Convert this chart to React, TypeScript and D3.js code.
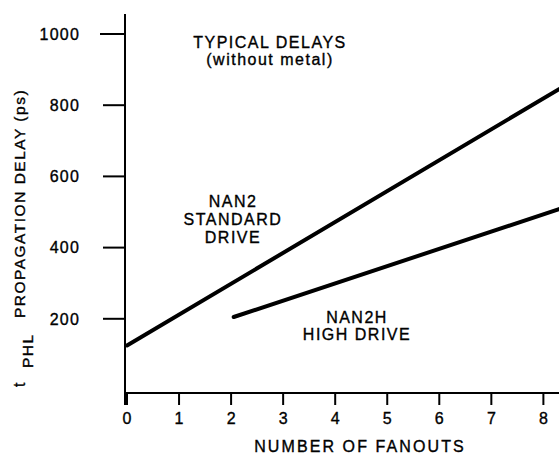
import React, { useEffect, useRef } from 'react';
import * as d3 from 'd3';

// fanouts (x) vs t_PHL propagation delay in ps (y)
const nan2Fanouts = [0, 8.3];
const nan2Delays = [125, 845];
const nan2hFanouts = [2.05, 8.3];
const nan2hDelays = [205, 508];

const xTicks = [0, 1, 2, 3, 4, 5, 6, 7, 8];
const yTicks = [200, 400, 600, 800, 1000];

const titleLines = ['TYPICAL DELAYS', '(without metal)'];
const nan2Label = ['NAN2', 'STANDARD', 'DRIVE'];
const nan2hLabel = ['NAN2H', 'HIGH DRIVE'];

const width = 559;
const height = 456;
const FONT = '"Liberation Sans", Arial, Helvetica, sans-serif';

interface Pt { x: number; y: number; }

const App: React.FC = () => {
  const svgRef = useRef<SVGSVGElement>(null);

  useEffect(() => {
    if (!svgRef.current) return;
    const svg = d3.select(svgRef.current);
    svg.selectAll('*').remove();

    const xScale = d3.scaleLinear().domain([0, 8.3]).range([127, 559]);
    const yScale = d3.scaleLinear().domain([0, 1000]).range([390, 34]);

    const axisX = 125;
    const axisY = 393;

    const g = svg.append('g')
      .attr('font-family', FONT)
      .attr('fill', '#000');

    // the scan is a bit heavy, so give text a hairline outline
    const ink = (t: d3.Selection<SVGTextElement, any, any, any>) =>
      t.attr('stroke', '#000').attr('stroke-width', 0.35);

    // axes
    g.append('line')
      .attr('x1', axisX).attr('x2', axisX)
      .attr('y1', 14).attr('y2', 405)
      .attr('stroke', '#000').attr('stroke-width', 2);
    g.append('line')
      .attr('x1', axisX).attr('x2', width)
      .attr('y1', axisY).attr('y2', axisY)
      .attr('stroke', '#000').attr('stroke-width', 2);

    // x ticks
    g.selectAll('.xtick')
      .data(xTicks)
      .enter()
      .append('line')
      .attr('x1', d => xScale(d)).attr('x2', d => xScale(d))
      .attr('y1', axisY).attr('y2', axisY + 12)
      .attr('stroke', '#000').attr('stroke-width', 2);
    g.selectAll('.xlabel')
      .data(xTicks)
      .enter()
      .append('text')
      .attr('x', d => xScale(d))
      .attr('y', 424)
      .attr('text-anchor', 'middle')
      .attr('font-size', 16)
      .call(ink)
      .text(d => String(d));

    // y ticks
    g.selectAll('.ytick')
      .data(yTicks)
      .enter()
      .append('line')
      .attr('x1', d => (d === 1000 ? 100 : 103)).attr('x2', axisX)
      .attr('y1', d => yScale(d)).attr('y2', d => yScale(d))
      .attr('stroke', '#000').attr('stroke-width', 2);
    g.selectAll('.ylabel')
      .data(yTicks)
      .enter()
      .append('text')
      .attr('x', 80)
      .attr('y', d => yScale(d) + 5.8)
      .attr('text-anchor', 'end')
      .attr('font-size', 16)
      .attr('letter-spacing', 1.2)
      .call(ink)
      .text(d => String(d));

    // data lines
    const line = d3.line<Pt>().x(d => xScale(d.x)).y(d => yScale(d.y));
    const series: Pt[][] = [
      nan2Fanouts.map((x, i) => ({ x, y: nan2Delays[i] })),
      nan2hFanouts.map((x, i) => ({ x, y: nan2hDelays[i] })),
    ];
    g.selectAll('.series')
      .data(series)
      .enter()
      .append('path')
      .attr('d', d => line(d))
      .attr('fill', 'none')
      .attr('stroke', '#000')
      .attr('stroke-width', 4)
      .attr('stroke-linecap', 'round');

    // annotation blocks
    const block = (lines: string[], cx: number, y0: number, step: number) => {
      lines.forEach((s, i) => {
        g.append('text')
          .attr('x', cx)
          .attr('y', y0 + i * step)
          .attr('text-anchor', 'middle')
          .attr('font-size', 16)
          .attr('letter-spacing', 1.5)
          .call(ink)
          .text(s);
      });
    };
    block(titleLines, 270, 48, 17);
    block(nan2Label, 233, 207, 18);
    block(nan2hLabel, 357, 323, 17);

    // x axis title
    g.append('text')
      .attr('x', 360)
      .attr('y', 452)
      .attr('text-anchor', 'middle')
      .attr('font-size', 16)
      .attr('letter-spacing', 2.1)
      .call(ink)
      .text('NUMBER OF FANOUTS');

    // y axis title: t_PHL PROPAGATION DELAY (ps)
    g.append('text')
      .attr('transform', 'translate(25,387) rotate(-90)')
      .attr('font-size', 16)
      .call(ink)
      .text('t');
    g.append('text')
      .attr('transform', 'translate(33,368) rotate(-90)')
      .attr('font-size', 15.5)
      .attr('letter-spacing', 1.5)
      .call(ink)
      .text('PHL');
    g.append('text')
      .attr('transform', 'translate(25,203.5) rotate(-90)')
      .attr('text-anchor', 'middle')
      .attr('font-size', 15.5)
      .attr('letter-spacing', 1.5)
      .call(ink)
      .text('PROPAGATION DELAY (ps)');
  }, []);

  return (
    <svg
      ref={svgRef}
      width={width}
      height={height}
      style={{ position: 'absolute', left: 0, top: 0, background: '#fff' }}
    />
  );
};

export default App;
